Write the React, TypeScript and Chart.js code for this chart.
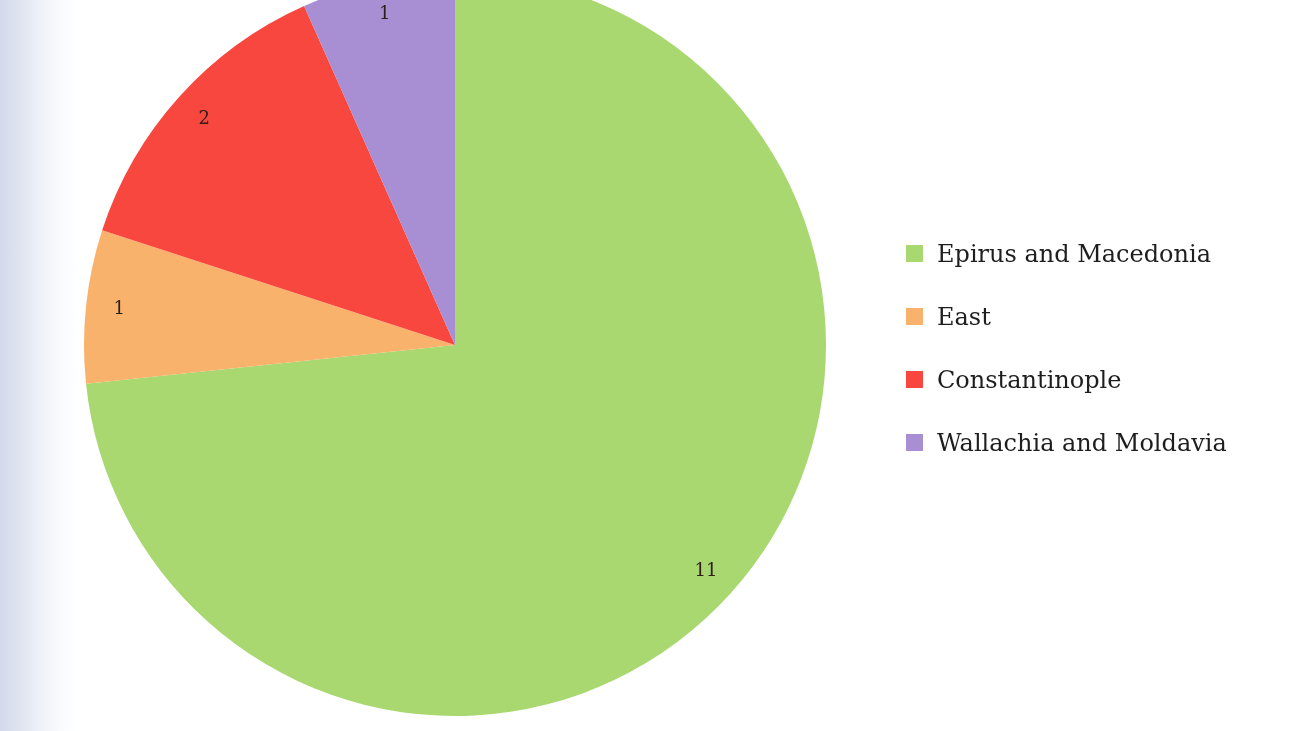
import React, { useEffect, useRef } from "react";
import { Chart, registerables } from "chart.js";

Chart.register(...registerables);

const categories = ["Epirus and Macedonia", "East", "Constantinople", "Wallachia and Moldavia"];
const counts = [11, 1, 2, 1];
const colors = ["#a9d870", "#f9b26c", "#f7473f", "#a88fd3"];

const labelPlugin = {
  id: "sliceLabels",
  afterDatasetsDraw(chart: any) {
    const ctx = chart.ctx;
    const meta = chart.getDatasetMeta(0);
    ctx.save();
    ctx.font = "18px 'DejaVu Serif'";
    ctx.fillStyle = "#2e2018";
    ctx.textAlign = "center";
    ctx.textBaseline = "middle";
    meta.data.forEach((arc: any, i: number) => {
      const p = arc.getProps(["x", "y", "startAngle", "endAngle", "outerRadius"], true);
      const mid = (p.startAngle + p.endAngle) / 2;
      const d = p.outerRadius * 0.91;
      ctx.fillText(String(counts[i]), p.x + Math.cos(mid) * d, p.y + Math.sin(mid) * d);
    });
    ctx.restore();
  },
};

const legendPlugin = {
  id: "customLegend",
  afterDraw(chart: any) {
    const ctx = chart.ctx;
    ctx.save();
    ctx.font = "24px 'DejaVu Serif'";
    ctx.textBaseline = "alphabetic";
    ctx.textAlign = "left";
    const x0 = 906;
    const base0 = 262 + 26;
    const step = 63;
    chart.data.labels.forEach((lab: string, i: number) => {
      const y = base0 + i * step;
      ctx.fillStyle = colors[i];
      ctx.fillRect(x0, y - 17, 17, 17);
      ctx.fillStyle = "#1e1e1e";
      ctx.fillText(lab, 937, y);
    });
    ctx.restore();
  },
};

export default function App() {
  const ref = useRef<HTMLCanvasElement | null>(null);
  useEffect(() => {
    if (!ref.current) return;
    const chart = new Chart(ref.current, {
      type: "pie",
      data: {
        labels: categories,
        datasets: [
          {
            data: counts,
            backgroundColor: colors,
            borderWidth: 0,
          },
        ],
      },
      options: {
        responsive: false,
        animation: false,
        layout: { padding: { left: 84, right: 469, top: 0, bottom: 0 } },
        plugins: {
          legend: { display: false },
          tooltip: { enabled: false },
        },
      },
      plugins: [labelPlugin, legendPlugin],
    });
    return () => chart.destroy();
  }, []);

  return (
    <div
      style={{
        position: "fixed",
        left: 0,
        top: 0,
        width: 1295,
        height: 731,
        overflow: "hidden",
        background: "linear-gradient(to right, #d3d9ea 0px, #dfe4f0 20px, #eef1f8 40px, #fafbfd 60px, #ffffff 80px)",
      }}
    >
      <canvas
        ref={ref}
        width={1295}
        height={742}
        style={{ position: "absolute", left: 0, top: -26, width: 1295, height: 742 }}
      />
    </div>
  );
}
